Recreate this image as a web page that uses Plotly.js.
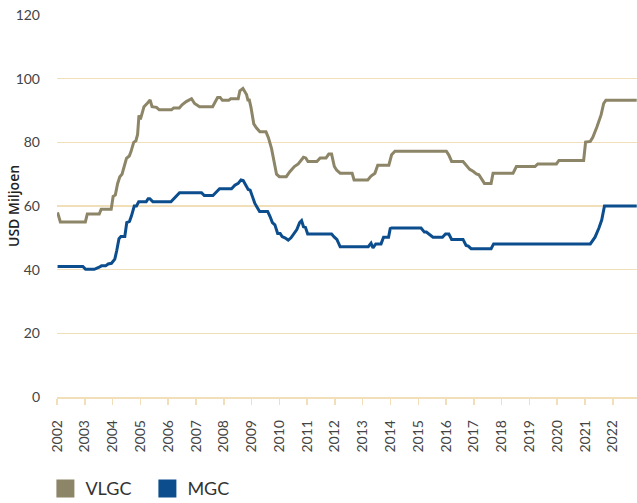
<!DOCTYPE html>
<html>
<head>
<meta charset="utf-8">
<script src="https://cdn.plot.ly/plotly-3.0.1.min.js"></script>
<style>html,body{margin:0;padding:0;background:#fff;}#chart{width:637px;height:503px;}</style>
</head>
<body>
<div id="chart"></div>
<script>
// VLGC (years, USD million)
const vlgcX = [2002.02,2002.12,2003.02,2003.09,2003.52,2003.59,2003.95,2004.02,2004.1,2004.18,2004.26,2004.34,2004.5,2004.6,2004.66,2004.76,2004.84,2004.9,2004.95,2005.0,2005.06,2005.13,2005.25,2005.35,2005.42,2005.58,2005.68,2006.12,2006.2,2006.4,2006.5,2006.65,2006.84,2006.95,2007.13,2007.6,2007.7,2007.78,2007.87,2007.95,2008.18,2008.25,2008.52,2008.58,2008.69,2008.82,2008.87,2008.92,2008.98,2009.08,2009.18,2009.3,2009.52,2009.61,2009.72,2009.84,2009.9,2010.0,2010.25,2010.37,2010.54,2010.68,2010.8,2010.87,2010.95,2011.03,2011.35,2011.47,2011.68,2011.78,2011.88,2011.98,2012.06,2012.19,2012.62,2012.69,2013.18,2013.3,2013.44,2013.54,2013.94,2014.04,2014.16,2016.01,2016.1,2016.2,2016.61,2016.73,2016.85,2016.97,2017.09,2017.18,2017.28,2017.38,2017.62,2017.69,2018.41,2018.53,2019.2,2019.3,2019.97,2020.06,2020.95,2021.02,2021.19,2021.28,2021.43,2021.58,2021.67,2021.75,2022.86];
const vlgcY = [58,55,55,57.5,57.5,59,59,63,63.5,67,69.2,70,75,75.7,77,80,80.5,82.5,88.5,87.2,89,91.2,92.3,93.3,91.2,91,90.2,90.2,90.8,90.8,91.8,92.8,93.7,92.2,91.2,91.2,92.8,94.1,94.1,93.2,93.2,93.7,93.7,96.2,96.9,95,93.3,93.3,91,85.8,84.5,83.3,83.3,81.4,78,72.4,70,69.2,69.2,70.7,72.4,73.2,74.5,75.3,75.1,74,74,75.1,75.1,76.3,76.3,72.4,71.3,70.3,70.3,68.2,68.2,69.4,70.3,72.8,72.8,76.1,77.2,77.2,76,74,74,72.8,71.5,70.9,70.1,69.8,68.6,67.1,67.1,70.3,70.3,72.4,72.4,73.2,73.2,74.3,74.3,80.1,80.3,81.6,84.9,88.7,92.2,93.2,93.2];

// MGC (years, USD million)
const mgcX = [2002.02,2002.93,2003.03,2003.34,2003.5,2003.6,2003.75,2003.84,2003.96,2004.08,2004.15,2004.23,2004.3,2004.44,2004.51,2004.61,2004.68,2004.78,2004.86,2004.94,2005.21,2005.28,2005.34,2005.45,2006.1,2006.22,2006.41,2007.2,2007.3,2007.61,2007.73,2007.85,2008.28,2008.4,2008.52,2008.62,2008.7,2008.81,2008.88,2008.95,2009.05,2009.12,2009.29,2009.58,2009.67,2009.75,2009.84,2009.94,2010.03,2010.1,2010.2,2010.32,2010.42,2010.54,2010.63,2010.73,2010.8,2010.87,2010.94,2011.02,2011.88,2011.98,2012.07,2012.19,2013.2,2013.3,2013.37,2013.47,2013.66,2013.75,2013.93,2013.99,2014.04,2015.1,2015.22,2015.29,2015.53,2015.87,2015.98,2016.1,2016.2,2016.61,2016.72,2016.8,2016.9,2017.62,2017.71,2021.19,2021.36,2021.5,2021.6,2021.7,2022.86];
const mgcY = [41,41,40.1,40.1,40.7,41.2,41.2,41.8,42,43.3,46,49.7,50.4,50.4,54.8,55.2,56.9,60,60,61.3,61.3,62.3,62.3,61.3,61.3,62.5,64.2,64.2,63.3,63.3,64.2,65.4,65.4,66.5,67.1,68.2,68,66.5,65.2,65,62.5,60.8,58.3,58.3,56.6,54.8,54.1,51.4,51.4,50.4,50,49.3,50,51.4,52.6,54.8,55.4,53.5,53.3,51.2,51.2,50.2,49.5,47.2,47.2,48.3,46.8,48.1,48.1,50.2,50.2,52.9,53.1,53.1,51.8,51.8,50.2,50.2,51.2,51.2,49.5,49.5,47.6,47.4,46.6,46.6,48.1,48.1,50.2,53.1,55.6,60,60];

const years = [2002,2003,2004,2005,2006,2007,2008,2009,2010,2011,2012,2013,2014,2015,2016,2017,2018,2019,2020,2021,2022];
const yearLabels = years.map(String);
const seriesNames = ['VLGC','MGC'];
const colors = ['#8d8567','#0c4e8d'];
const yTitle = 'USD Miljoen';

const FONT = 'Lato, "Open Sans", sans-serif';
const grid = '#f0dfb8';

const traces = [
  {x: vlgcX, y: vlgcY, mode:'lines', line:{color:colors[0], width:3}, showlegend:false, hoverinfo:'skip'},
  {x: mgcX, y: mgcY, mode:'lines', line:{color:colors[1], width:3}, showlegend:false, hoverinfo:'skip'},
  {x:[null], y:[null], mode:'markers', name:seriesNames[0], marker:{symbol:'square', size:16, color:colors[0], line:{width:2,color:colors[0]}}},
  {x:[null], y:[null], mode:'markers', name:seriesNames[1], marker:{symbol:'square', size:16, color:colors[1], line:{width:2,color:colors[1]}}}
];

const layout = {
  width:637, height:503,
  margin:{l:57, r:0, t:15, b:106, pad:0, autoexpand:false},
  paper_bgcolor:'#fff', plot_bgcolor:'#fff',
  font:{family:FONT, color:'#444', size:13},
  xaxis:{
    range:[2002, 2022.87], tickvals:years, ticktext:yearLabels, tickangle:-90,
    showgrid:false, zeroline:false, showline:true, linecolor:grid, linewidth:1.5,
    ticks:'outside', ticklen:6, tickcolor:grid, tickwidth:1.5, ticklabelstandoff:10,
    tickfont:{size:14, color:'#444', family:FONT}, fixedrange:true, automargin:false
  },
  yaxis:{
    range:[0,120], dtick:20, showgrid:true, gridcolor:grid, gridwidth:1.5,
    zeroline:false, showline:false, ticks:'', ticklabelstandoff:16,
    tickfont:{size:14, color:'#444', family:FONT}, fixedrange:true, automargin:false
  },
  annotations:[{
    text:yTitle, xref:'paper', yref:'paper', x:0, y:0.5, xshift:-44,
    xanchor:'center', yanchor:'middle', textangle:-90, showarrow:false,
    font:{size:14, color:'#222', family:'"Open Sans", Lato, sans-serif', weight:600}
  }],
  showlegend:true,
  legend:{orientation:'h', x:-0.02, xanchor:'left', y:-0.24, yanchor:'middle',
    font:{size:18, color:'#333', family:FONT}, entrywidth:57, entrywidthmode:'pixels',
    itemclick:false, itemdoubleclick:false, bgcolor:'rgba(0,0,0,0)'}
};

Plotly.newPlot('chart', traces, layout, {displayModeBar:false, staticPlot:true});
</script>
</body>
</html>
